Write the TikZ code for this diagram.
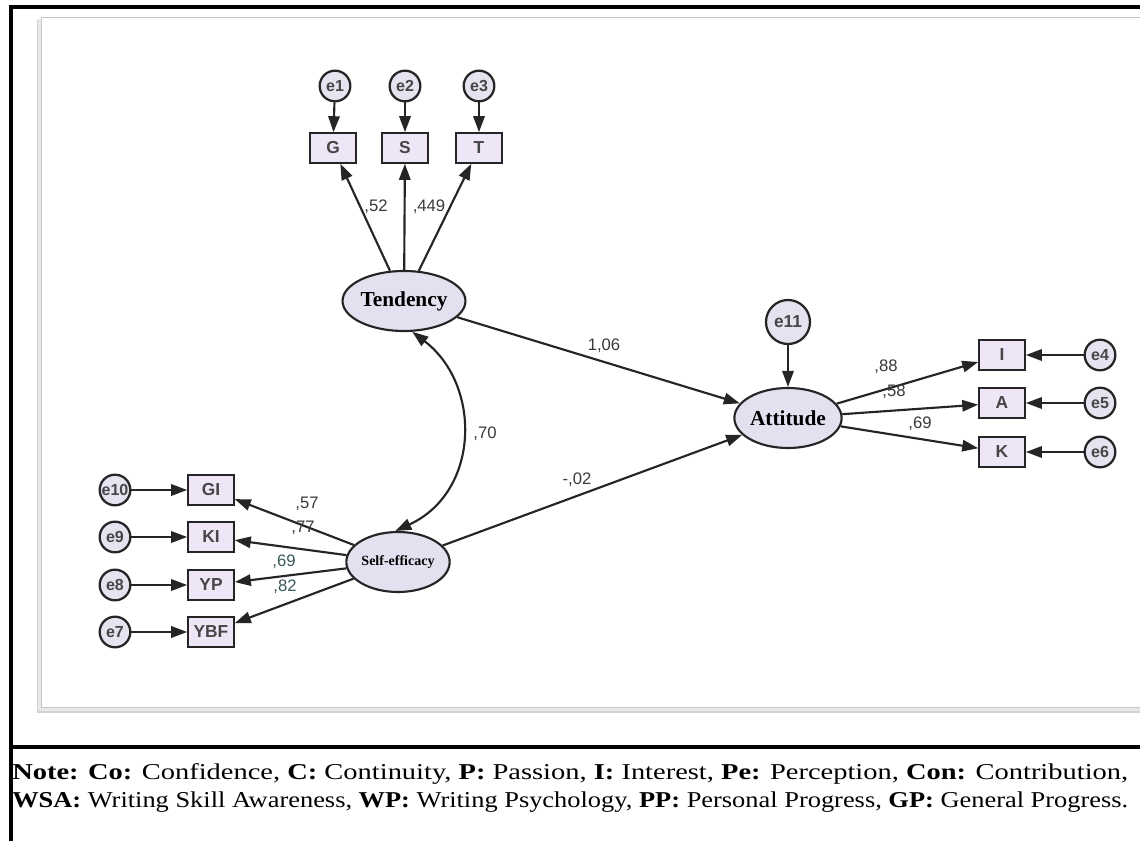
\documentclass[tikz,border=0pt]{standalone}
\usepackage{fontspec}
\setmainfont{Liberation Serif}
\setsansfont{Liberation Sans}
\usetikzlibrary{shapes.geometric,arrows.meta}
\definecolor{dk}{HTML}{252525}
\definecolor{latfill}{HTML}{E4E0F0}
\definecolor{obsfill}{HTML}{EEE6F6}
\definecolor{errfill}{HTML}{E6E2F0}
\definecolor{coefc}{HTML}{3A3A3A}
\definecolor{coeft}{HTML}{3A5858}
\tikzset{
  lat/.style={ellipse, draw=dk, line width=1.6pt, fill=latfill, minimum width=69pt, minimum height=45pt, inner sep=0pt, font=\rmfamily\bfseries\fontsize{16}{16}\selectfont},
  obs/.style={rectangle, draw=dk, line width=1.7pt, fill=obsfill, minimum width=34pt, minimum height=22pt, inner sep=0pt, font=\sffamily\bfseries\fontsize{13}{13}\selectfont, text=dk!85},
  err/.style={circle, draw=dk, line width=1.7pt, fill=errfill, minimum size=23pt, inner sep=0pt, font=\sffamily\bfseries\fontsize{12}{12}\selectfont, text=dk!85},
  pth/.style={draw=dk, line width=1.6pt, -{Triangle[length=12pt,width=8.5pt]}},
  coef/.style={font=\sffamily\fontsize{12.5}{12.5}\selectfont, text=coefc, inner sep=0pt},
}
\begin{document}
\begin{tikzpicture}[x=0.75pt,y=-0.75pt]
\useasboundingbox (0,0) rectangle (1140,841);
% inner grey panel with shadow
\fill[gray!35] (37,20) rectangle (1145,713);
\fill[gray!18] (38,19) rectangle (1145,711);
\fill[white] (41,17) rectangle (1145,707);
\draw[gray!45, line width=0.6pt] (41,17) rectangle (1145,707);
% frame lines
\draw[black, line width=2.4pt] (9,7) -- (1140,7);
\draw[black, line width=2.4pt] (11,6) -- (11,841);
\draw[black, line width=3.6pt] (9,747) -- (1140,747);

% Tendency block
\node[err] (e1) at (335,86) {e1};
\node[err] (e2) at (405,86) {e2};
\node[err] (e3) at (479,86) {e3};
\node[obs] (G) at (333,148) {G};
\node[obs] (S) at (405,148) {S};
\node[obs] (T) at (479,148) {T};
\node[lat] (Tend) at (404,301) {Tendency};
\draw[pth] (e1) -- (G);
\draw[pth] (e2) -- (S);
\draw[pth] (e3) -- (T);
\draw[pth] (Tend) -- (G);
\draw[pth] (Tend) -- (S);
\draw[pth] (Tend) -- (T);
\node[coef] (c52) at (376,207) {,52};
\node[coef] (c449) at (429,207) {,449};

% Attitude block
\node[err, minimum size=33pt, font=\sffamily\bfseries\fontsize{13}{13}\selectfont] (e11) at (788,322) {e11};
\node[lat] (Att) at (788,418) {Attitude};
\node[obs] (I) at (1002,355) {I};
\node[obs] (A) at (1002,403) {A};
\node[obs] (K) at (1002,452) {K};
\node[err] (e4) at (1100,355) {e4};
\node[err] (e5) at (1100,403) {e5};
\node[err] (e6) at (1100,452) {e6};
\draw[pth] (e11) -- (Att);
\draw[pth] (Att) -- (I);
\draw[pth] (Att) -- (A);
\draw[pth] (Att) -- (K);
\draw[pth] (e4) -- (I);
\draw[pth] (e5) -- (A);
\draw[pth] (e6) -- (K);
\node[coef] (c88) at (886,367) {,88};
\node[coef] (c58) at (894,392) {,58};
\node[coef] (c69a) at (920,424) {,69};

% Self-efficacy block
\node[lat, font=\rmfamily\bfseries\fontsize{10.5}{10.5}\selectfont] (Self) at (398,562) {Self-efficacy};
\node[obs] (GI) at (211,490) {GI};
\node[obs] (KI) at (211,537) {KI};
\node[obs] (YP) at (211,585) {YP};
\node[obs] (YBF) at (211,632) {YBF};
\node[err] (e10) at (115,490) {e10};
\node[err] (e9) at (115,537) {e9};
\node[err] (e8) at (115,585) {e8};
\node[err] (e7) at (115,632) {e7};
\draw[pth] (e10) -- (GI);
\draw[pth] (e9) -- (KI);
\draw[pth] (e8) -- (YP);
\draw[pth] (e7) -- (YBF);
\draw[pth] (Self) -- (GI);
\draw[pth] (Self) -- (KI);
\draw[pth] (Self) -- (YP);
\draw[pth] (Self) -- (YBF);
\node[coef] (c57) at (307,504) {,57};
\node[coef] (c77) at (303,528) {,77};
\node[coef, text=coeft] (c69b) at (284,562) {,69};
\node[coef, text=coeft] (c82) at (285,587) {,82};

% structural paths
\draw[pth] (Tend) -- (Att);
\draw[pth] (Self) -- (Att);
\node[coef] (c106) at (604,346) {1,06};
\node[coef] (c02) at (577,480) {-,02};
\draw[draw=dk, line width=1.6pt, {Triangle[length=12pt,width=8.5pt]}-{Triangle[length=12pt,width=8.5pt]}]
  (Tend.-75) .. controls (482,385) and (480,492) .. (Self.95);
\node[coef] (c70) at (485,434) {,70};

% note
\node[anchor=base west, inner sep=0pt] (n1) at (12,779) {\resizebox{837pt}{\height}{\fontsize{17}{17}\selectfont\textbf{Note:} \textbf{Co:} Confidence, \textbf{C:} Continuity, \textbf{P:} Passion, \textbf{I:} Interest, \textbf{Pe:} Perception, \textbf{Con:} Contribution,}};
\node[anchor=base west, inner sep=0pt] (n2) at (12,807) {\resizebox{837pt}{\height}{\fontsize{17}{17}\selectfont\textbf{WSA:} Writing Skill Awareness, \textbf{WP:} Writing Psychology, \textbf{PP:} Personal Progress, \textbf{GP:} General Progress.}};
\end{tikzpicture}
\end{document}
